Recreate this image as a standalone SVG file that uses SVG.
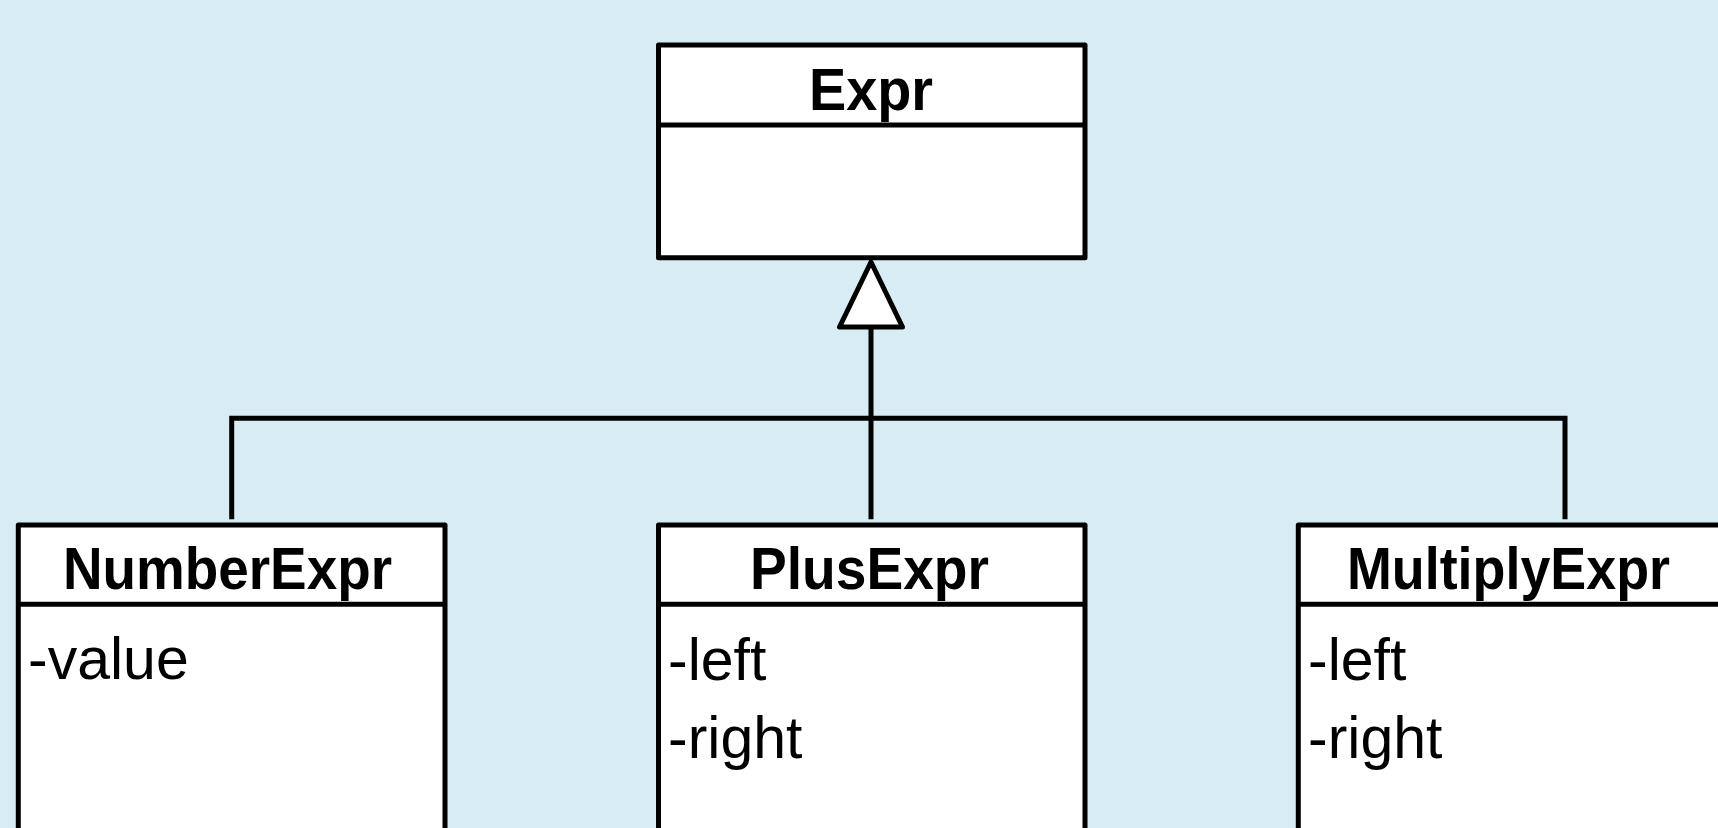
<svg xmlns="http://www.w3.org/2000/svg" width="1718" height="828" viewBox="0 0 1718 828">
<style>
.box{fill:#fff;stroke:#000;stroke-width:5;stroke-linejoin:round}
.ln{fill:none;stroke:#000;stroke-width:5}
.t{font-family:"Liberation Sans",Arial,sans-serif;font-weight:bold;font-size:60px;fill:#000}
.a{font-family:"Liberation Sans",Arial,sans-serif;font-size:59px;fill:#000}
</style>
<rect width="1718" height="828" fill="#D7EDF3"/>
<g id="connectors">
<path class="ln" d="M231.7,519.3 V418.3 H1565 V519.3" stroke-linejoin="miter"/>
<path class="ln" d="M871,326 V519.3"/>
<polygon class="box" points="871,262 839.5,327 902.5,327"/>
</g>
<g id="Expr">
<rect class="box" x="658.5" y="45" width="426.5" height="212.7"/>
<line class="ln" x1="658.5" y1="125" x2="1085" y2="125"/>
<text class="t" x="809" y="110" textLength="124" lengthAdjust="spacingAndGlyphs">Expr</text>
</g>
<g id="NumberExpr">
<rect class="box" x="18.3" y="525" width="426.7" height="400"/>
<line class="ln" x1="18.3" y1="604.3" x2="445" y2="604.3"/>
<text class="t" x="63" y="589.3" textLength="329" lengthAdjust="spacingAndGlyphs">NumberExpr</text>
<text class="a" x="28" y="679">-value</text>
</g>
<g id="PlusExpr">
<rect class="box" x="658.5" y="525" width="426.5" height="400"/>
<line class="ln" x1="658.5" y1="604.3" x2="1085" y2="604.3"/>
<text class="t" x="750" y="589.3" textLength="239" lengthAdjust="spacingAndGlyphs">PlusExpr</text>
<text class="a" x="668" y="680">-left</text>
<text class="a" x="668" y="758.3">-right</text>
</g>
<g id="MultiplyExpr">
<rect class="box" x="1298.3" y="525" width="426.7" height="400"/>
<line class="ln" x1="1298.3" y1="604.3" x2="1725" y2="604.3"/>
<text class="t" x="1347" y="589.3" textLength="323" lengthAdjust="spacingAndGlyphs">MultiplyExpr</text>
<text class="a" x="1308" y="680">-left</text>
<text class="a" x="1308" y="758.3">-right</text>
</g>
</svg>
